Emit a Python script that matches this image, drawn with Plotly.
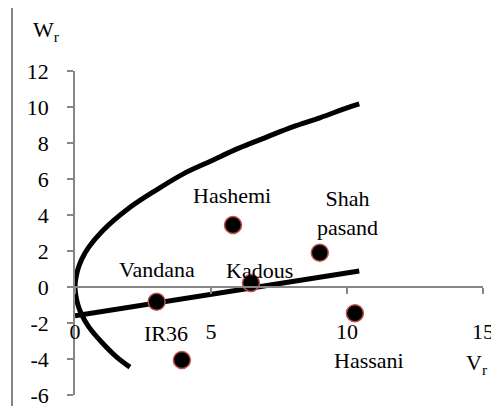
import plotly.graph_objects as go

# Genotype points (Vr, Wr)
genotypes = ["Hashemi", "Shah pasand", "Vandana", "Kadous", "IR36", "Hassani"]
vr_vals = [5.81, 9.00, 3.00, 6.47, 3.93, 10.29]
wr_vals = [3.44, 1.90, -0.82, 0.22, -4.06, -1.46]

# Regression line end points
reg_x = [0.0, 10.45]
reg_y = [-1.60, 0.89]

# Limiting parabola, points (lower end -> vertex -> upper end)
par_x = [2.02, 1.5, 1.0, 0.5, 0.25, 0.1, 0.0, 0.1, 0.25, 0.5, 1.0, 2.0, 3.0, 4.0, 5.0, 6.0, 7.0, 8.0, 9.0, 10.0, 10.45]
par_y = [-4.45, -3.85, -3.1, -2.2, -1.55, -0.95, 0.0, 0.95, 1.55, 2.2, 3.1, 4.4, 5.4, 6.3, 7.0, 7.7, 8.3, 8.9, 9.4, 9.95, 10.17]

# Label positions (data coords)
label_text = ["Hashemi", "Shah<br>pasand", "Vandana", "Kadous", "IR36", "Hassani"]
label_x = [5.77, 10.0, 3.03, 6.78, 3.36, 10.81]
label_y = [5.06, 4.10, 1.00, 0.94, -2.56, -4.06]

x_ticks = [0, 5, 10, 15]
x_tick_text = ["0", "5", "10", "15"]
y_ticks = [-6, -4, -2, 0, 2, 4, 6, 8, 10, 12]
y_tick_text = ["-6", "-4", "-2", "0", "2", "4", "6", "8", "10", "12"]

FONT = "Liberation Serif, Times New Roman, serif"
FS = 22
GRAY = "#868686"

fig = go.Figure()
fig.add_trace(go.Scatter(x=par_x, y=par_y, mode="lines", line=dict(color="black", width=5, shape="spline"), hoverinfo="skip"))
fig.add_trace(go.Scatter(x=reg_x, y=reg_y, mode="lines", line=dict(color="black", width=5), hoverinfo="skip"))
fig.add_trace(go.Scatter(x=vr_vals, y=wr_vals, mode="markers", text=genotypes,
                         marker=dict(size=17, color="black", line=dict(color="#C0504D", width=1.5))))

for t, x, y in zip(label_text, label_x, label_y):
    fig.add_annotation(x=x, y=y, xref="x", yref="y", text=t, showarrow=False,
                       font=dict(family=FONT, size=FS, color="black"))

# Axis titles
fig.add_annotation(x=(31 - 75) / 408, y=(395 - 31) / 324, xref="paper", yref="paper",
                   text="W<sub>r</sub>", showarrow=False, xanchor="left", yanchor="middle",
                   font=dict(family=FONT, size=FS, color="black"))
fig.add_annotation(x=(464 - 75) / 408, y=(395 - 364) / 324, xref="paper", yref="paper",
                   text="V<sub>r</sub>", showarrow=False, xanchor="left", yanchor="middle",
                   font=dict(family=FONT, size=FS, color="black"))

# Outer frame
fig.add_shape(type="rect", xref="paper", yref="paper",
              x0=(12 - 75) / 408, x1=1.2, y0=-0.2, y1=(395 - 4.5) / 324,
              line=dict(color=GRAY, width=2), fillcolor="rgba(0,0,0,0)", layer="below")

fig.update_layout(
    width=491, height=398,
    margin=dict(l=67, r=16, t=63, b=11),
    paper_bgcolor="white", plot_bgcolor="white",
    showlegend=False,
    font=dict(family=FONT, size=FS, color="black"),
    xaxis=dict(range=[0, 15], tickvals=x_ticks, ticktext=x_tick_text, ticks="outside", ticklen=6, tickcolor=GRAY,
               tickwidth=1.5, showline=True, linecolor=GRAY, linewidth=1.5, showgrid=False,
               zeroline=False, anchor="free", position=1 / 3, ticklabelstandoff=19, automargin=False,
               ticklabeloverflow="allow",
               tickfont=dict(family=FONT, size=FS, color="black")),
    yaxis=dict(range=[-6, 12], tickvals=y_ticks, ticktext=y_tick_text, ticks="outside", ticklen=6, tickcolor=GRAY,
               tickwidth=1.5, showline=True, linecolor=GRAY, linewidth=1.5, showgrid=False,
               zeroline=False, ticklabelstandoff=14, automargin=False,
               ticklabeloverflow="allow",
               tickfont=dict(family=FONT, size=FS, color="black")),
)

fig.write_html("out.html")
